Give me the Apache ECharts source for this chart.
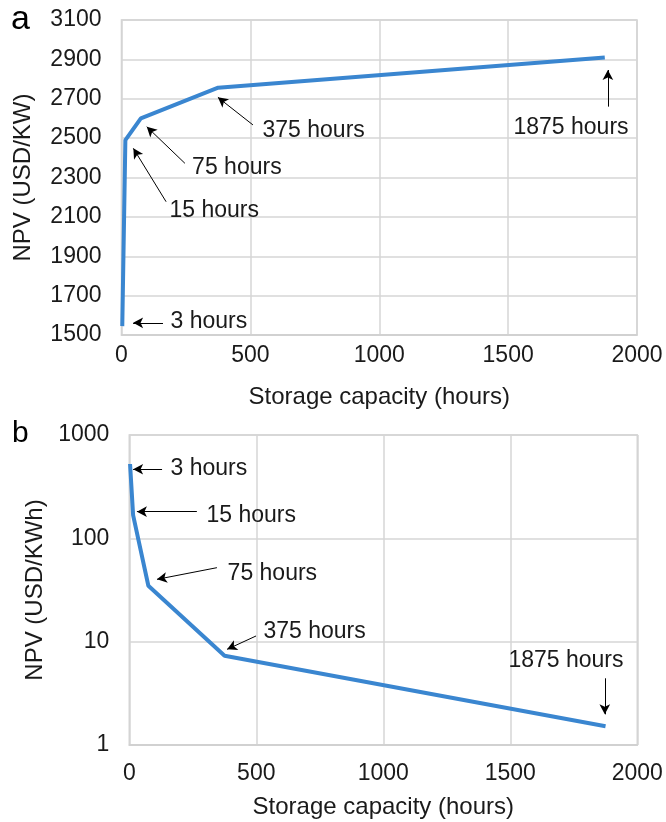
<!DOCTYPE html>
<html>
<head>
<meta charset="utf-8">
<script src="https://cdn.jsdelivr.net/npm/echarts@6/dist/echarts.min.js"></script>
<style>
  html, body { margin: 0; padding: 0; background: #fff; }
  #chart { width: 666px; height: 822px; }
</style>
</head>
<body>
<div id="chart"></div>
<script>
// storage capacity (hours) and NPV values
var hours = [3, 15, 75, 375, 1875];
var npvKW = [1545, 2490, 2600, 2756, 2910];
var npvKWh = [524, 168, 34.8, 7.3, 1.52];

var xTicks = [0, 500, 1000, 1500, 2000];
var yTicksKW = [1500, 1700, 1900, 2100, 2300, 2500, 2700, 2900, 3100];

// annotations in data units: [tailX, tailY, headX, headY]
var arrowsKW = [
    [161, 1562, 45, 1562],
    [173, 2177, 46, 2448],
    [246, 2372, 98, 2558],
    [510, 2567, 374, 2707],
    [1887, 2660, 1887, 2846]
];
// [x, y, text, align]
var labelsKW = [
    [190, 1566, '3 hours', 'left'],
    [186, 2133, '15 hours', 'left'],
    [274, 2348, '75 hours', 'left'],
    [547, 2538, '375 hours', 'left'],
    [1744, 2551, '1875 hours', 'center']
];
var arrowsKWh = [
    [129, 466, 15, 466],
    [266, 181, 30, 181],
    [345, 52, 109, 40.1],
    [499, 11.35, 385, 8.43],
    [1872, 4.42, 1872, 1.98]
];
var labelsKWh = [
    [162, 468, '3 hours', 'left'],
    [304, 164, '15 hours', 'left'],
    [387, 45.2, '75 hours', 'left'],
    [528, 12.5, '375 hours', 'left'],
    [1719, 6.5, '1875 hours', 'center']
];

var font = 'Liberation Sans, Arial, sans-serif';
var textColor = '#1a1a1a';
var blue = '#3a86d0';
var gridColor = '#d6d6d6';

var chart = echarts.init(document.getElementById('chart'), null, {renderer: 'canvas'});

function plain(v) { return String(v); }

function arrowLines(list) {
    return list.map(function (a) {
        return [{coord: [a[0], a[1]]}, {coord: [a[2], a[3]]}];
    });
}
function labelSeries(list, xi, yi) {
    return {
        type: 'scatter',
        xAxisIndex: xi,
        yAxisIndex: yi,
        symbolSize: 0,
        silent: true,
        itemStyle: {opacity: 1},
        data: list.map(function (l) {
            return {
                value: [l[0], l[1]],
                label: {
                    show: true,
                    formatter: l[2],
                    position: l[3] === 'left' ? 'right' : 'inside',
                    distance: 0,
                    color: textColor,
                    fontSize: 23,
                    fontFamily: font
                }
            };
        })
    };
}
function xAxisFor(gi, labelMargin) {
    return {
        type: 'value',
        gridIndex: gi,
        min: xTicks[0],
        max: xTicks[xTicks.length - 1],
        interval: 500,
        name: 'Storage capacity (hours)',
        nameLocation: 'middle',
        nameGap: 50,
        nameTextStyle: {fontSize: 24, color: textColor, fontFamily: font},
        axisLine: {show: true, lineStyle: {color: '#d0d0d0', width: 1.5}},
        axisTick: {show: false},
        axisLabel: {fontSize: 23, color: textColor, fontFamily: font, margin: labelMargin, formatter: plain},
        splitLine: {show: true, lineStyle: {color: gridColor, width: 1.5}}
    };
}

chart.setOption({
    animation: false,
    grid: [
        {left: 121.5, top: 20, width: 515.5, height: 315, show: true, borderColor: '#d0d0d0', borderWidth: 1.5},
        {left: 129.3, top: 435, width: 508, height: 310, show: true, borderColor: '#d0d0d0', borderWidth: 1.5}
    ],
    xAxis: [xAxisFor(0, 9), xAxisFor(1, 17)],
    yAxis: [{
        type: 'value',
        gridIndex: 0,
        min: yTicksKW[0],
        max: yTicksKW[yTicksKW.length - 1],
        interval: 200,
        name: 'NPV (USD/KW)',
        nameLocation: 'middle',
        nameGap: 86,
        nameTextStyle: {fontSize: 24, color: textColor, fontFamily: font},
        axisLine: {show: false},
        axisTick: {show: false},
        axisLabel: {fontSize: 23, color: textColor, fontFamily: font, margin: 20, formatter: plain},
        splitLine: {show: true, lineStyle: {color: gridColor, width: 1.5}}
    }, {
        type: 'log',
        gridIndex: 1,
        logBase: 10,
        min: 1,
        max: 1000,
        name: 'NPV (USD/KWh)',
        nameLocation: 'middle',
        nameGap: 72,
        nameTextStyle: {fontSize: 24, color: textColor, fontFamily: font},
        axisLine: {show: false},
        axisTick: {show: false},
        axisLabel: {fontSize: 23, color: textColor, fontFamily: font, margin: 20, formatter: plain},
        splitLine: {show: true, lineStyle: {color: gridColor, width: 1.5}}
    }],
    graphic: [
        {type: 'text', left: 11, top: 3, style: {text: 'a', fontSize: 34, fill: '#000', fontFamily: font}},
        {type: 'text', left: 12, top: 419, style: {text: 'b', fontSize: 30, fill: '#000', fontFamily: font}}
    ],
    series: [{
        name: 'NPV per kW',
        type: 'line',
        xAxisIndex: 0,
        yAxisIndex: 0,
        showSymbol: false,
        lineStyle: {color: blue, width: 4},
        data: hours.map(function (h, i) { return [h, npvKW[i]]; }),
        markLine: {
            silent: true,
            symbol: ['none', 'arrow'],
            symbolSize: [8, 10],
            label: {show: false},
            lineStyle: {color: '#000', width: 1, type: 'solid'},
            data: arrowLines(arrowsKW)
        }
    }, {
        name: 'NPV per kWh',
        type: 'line',
        xAxisIndex: 1,
        yAxisIndex: 1,
        showSymbol: false,
        lineStyle: {color: blue, width: 4},
        data: hours.map(function (h, i) { return [h, npvKWh[i]]; }),
        markLine: {
            silent: true,
            symbol: ['none', 'arrow'],
            symbolSize: [8, 10],
            label: {show: false},
            lineStyle: {color: '#000', width: 1, type: 'solid'},
            data: arrowLines(arrowsKWh)
        }
    },
    labelSeries(labelsKW, 0, 0),
    labelSeries(labelsKWh, 1, 1)]
});
</script>
</body>
</html>
